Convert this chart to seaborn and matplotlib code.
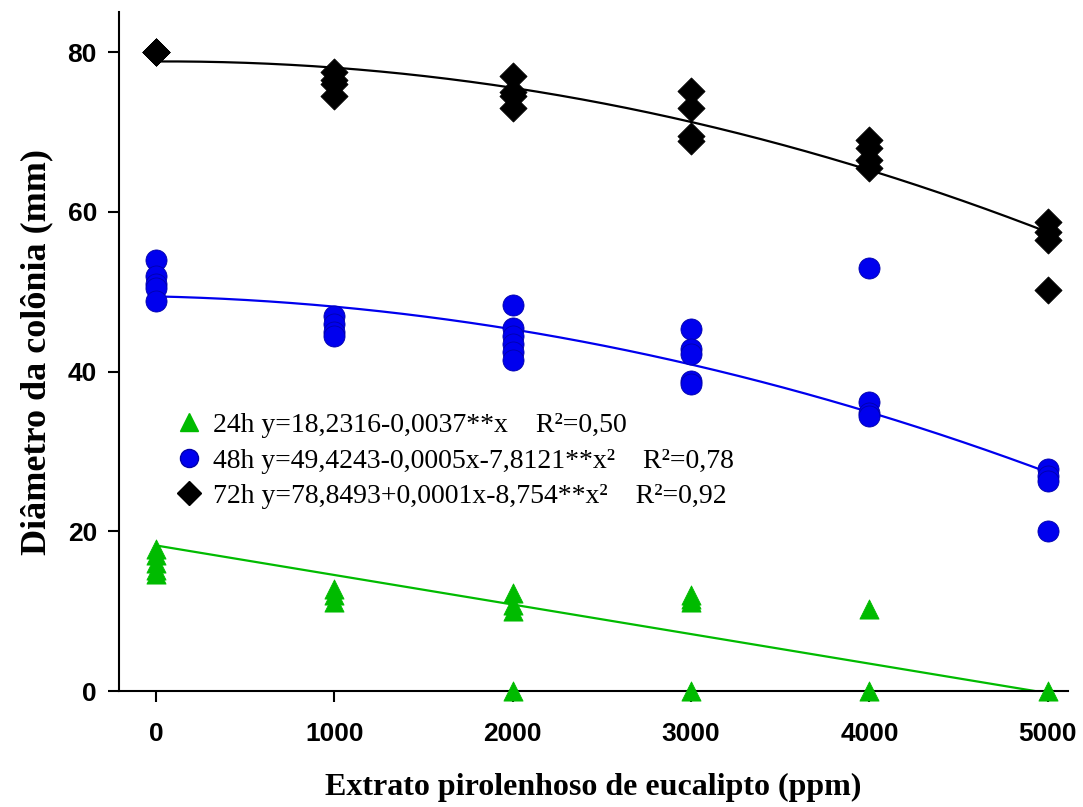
import numpy as np
import pandas as pd
import matplotlib
matplotlib.use("Agg")
import matplotlib.pyplot as plt
import seaborn as sns
from matplotlib.lines import Line2D

# Colony diameter (mm) per concentration of eucalyptus pyroligneous extract
x_24h = [0, 0, 0, 0, 0, 1000, 1000, 1000, 2000, 2000, 2000, 2000,
         3000, 3000, 3000, 3000, 4000, 4000, 5000]
y_24h = [17.8, 17.0, 16.0, 15.2, 14.6, 12.8, 12.0, 11.2, 12.3, 10.8, 10.0, 0.0,
         12.0, 11.5, 11.2, 0.0, 10.3, 0.0, 0.0]

x_48h = [0, 0, 0, 0, 0, 1000, 1000, 1000, 1000, 2000, 2000, 2000, 2000, 2000, 2000,
         3000, 3000, 3000, 3000, 3000, 4000, 4000, 4000, 4000, 5000, 5000, 5000, 5000]
y_48h = [54.0, 52.0, 51.0, 50.5, 48.8, 47.0, 46.0, 45.0, 44.5, 48.3, 45.5, 44.5, 43.5,
         42.5, 41.5, 45.4, 42.8, 42.2, 38.8, 38.5, 53.0, 36.2, 34.8, 34.5,
         27.8, 26.9, 26.3, 20.0]

x_72h = [0, 0, 0, 0, 1000, 1000, 1000, 1000, 2000, 2000, 2000, 2000,
         3000, 3000, 3000, 3000, 4000, 4000, 4000, 4000, 5000, 5000, 5000, 5000]
y_72h = [80.0, 80.0, 80.0, 80.0, 77.5, 76.5, 76.0, 74.5, 77.0, 75.0, 74.5, 73.0,
         75.2, 73.0, 69.5, 68.9, 69.0, 68.0, 66.5, 65.5, 58.8, 57.5, 56.5, 50.2]

# Regression coefficients (intercept, linear, quadratic)
coef_24h = [18.2316, -0.0037, 0.0]
coef_48h = [49.4243, -0.0005, -7.8121e-7]
coef_72h = [78.8493, 0.0001, -8.754e-7]

series = ["24h", "48h", "72h"]
legend_labels = [
    "24h y=18,2316-0,0037**x    R²=0,50",
    "48h y=49,4243-0,0005x-7,8121**x²    R²=0,78",
    "72h y=78,8493+0,0001x-8,754**x²    R²=0,92",
]
colors = {"24h": "#00bb00", "48h": "#0000ee", "72h": "#000000"}
edge = {"24h": "#00bb00", "48h": "#0000aa", "72h": "#000000"}
markers = {"24h": "^", "48h": "o", "72h": "D"}
sizes = {"24h": 190, "48h": 230, "72h": 190}

points = pd.concat([
    pd.DataFrame({"x": x_24h, "y": y_24h, "grupo": "24h"}),
    pd.DataFrame({"x": x_48h, "y": y_48h, "grupo": "48h"}),
    pd.DataFrame({"x": x_72h, "y": y_72h, "grupo": "72h"}),
], ignore_index=True)

xs = np.linspace(0, 5000, 200)
fits = []
for name, c in zip(series, [coef_24h, coef_48h, coef_72h]):
    fits.append(pd.DataFrame({"x": xs, "y": c[0] + c[1] * xs + c[2] * xs ** 2,
                              "grupo": name}))
fits = pd.concat(fits, ignore_index=True)

sns.set_style("ticks")
plt.rcParams["font.family"] = ["Liberation Sans", "DejaVu Sans"]
plt.rcParams["text.color"] = "black"
plt.rcParams["axes.labelcolor"] = "black"
plt.rcParams["xtick.color"] = "black"
plt.rcParams["ytick.color"] = "black"

fig = plt.figure(figsize=(10.83, 8.07), dpi=100)
ax = fig.add_axes([0.110, 0.1437, 0.876, 0.841])

for name in series:
    d = fits[fits["grupo"] == name]
    sns.lineplot(data=d, x="x", y="y", ax=ax, color=colors[name], lw=1.6,
                 legend=False, zorder=2)

for name in series:
    d = points[points["grupo"] == name]
    sns.scatterplot(data=d, x="x", y="y", ax=ax, color=colors[name],
                    marker=markers[name], s=sizes[name], edgecolor=edge[name],
                    linewidth=0.6, legend=False, zorder=3, clip_on=False)

ax.set_xlim(-207, 5112)
ax.set_ylim(0, 85)
ax.set_xticks([0, 1000, 2000, 3000, 4000, 5000])
ax.set_yticks([0, 20, 40, 60, 80])
ax.tick_params(axis="both", direction="out", length=8, width=1.5,
               labelsize=19, color="black", labelcolor="black")
ax.tick_params(axis="y", pad=8)
ax.tick_params(axis="x", pad=14)
for lab in ax.get_xticklabels() + ax.get_yticklabels():
    lab.set_fontweight("bold")
sns.despine(ax=ax)
for s in ["left", "bottom"]:
    ax.spines[s].set_linewidth(1.5)
    ax.spines[s].set_color("black")

serif = ["Liberation Serif", "DejaVu Serif"]
ax.set_xlabel("Extrato pirolenhoso de eucalipto (ppm)", family=serif,
              fontsize=23, fontweight="bold", labelpad=20)
ax.set_ylabel("Diâmetro da colônia (mm)", family=serif,
              fontsize=26, fontweight="bold", labelpad=10)

handles = [Line2D([], [], linestyle="none", marker=markers[n], color=colors[n],
                  markeredgecolor=edge[n], markersize=13 if n != "72h" else 12)
           for n in series]
leg = ax.legend(handles, legend_labels, loc="upper left",
                bbox_to_anchor=(0.027, 0.447), frameon=False,
                prop={"family": serif, "size": 20},
                handletextpad=0.15, labelspacing=0.36, handlelength=1.4)

fig.savefig("out.png", dpi=100)
